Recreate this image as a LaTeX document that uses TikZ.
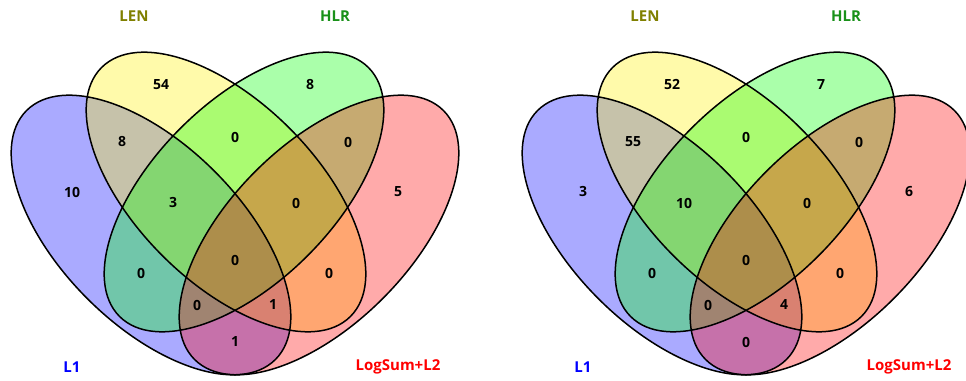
\documentclass[tikz,border=0pt]{standalone}
\usepackage{fontspec}
\setmainfont{Open Sans}
\definecolor{lenc}{RGB}{128,128,0}
\definecolor{hlrc}{RGB}{25,145,25}
\tikzset{
  num/.style={font=\bfseries\fontsize{14}{14}\selectfont, text=black, inner sep=0pt},
  setlab/.style={font=\bfseries\fontsize{15}{15}\selectfont, inner sep=0pt},
  vfill/.style={fill=#1, fill opacity=0.335, draw=none},
  vline/.style={draw=black, line width=1.5pt}
}
\begin{document}
\begin{tikzpicture}[x=1pt,y=1pt]
\useasboundingbox (0,0) rectangle (966,380);
\fill[white] (0,0) rectangle (966,380);
\foreach \dx/\p in {0/a,511/b}{
\begin{scope}[xshift=\dx]
  \path[vfill=blue, rotate around={-45:(151,145)}] (151,145) ellipse (176 and 90);
  \path[vfill=yellow, rotate around={-45:(226,188)}] (226,188) ellipse (176 and 90);
  \path[vfill=green, rotate around={45:(244,188)}] (244,188) ellipse (176 and 90);
  \path[vfill=red, rotate around={45:(319,145)}] (319,145) ellipse (176 and 90);
  \draw[vline, rotate around={-45:(151,145)}] (151,145) ellipse (176 and 90);
  \draw[vline, rotate around={-45:(226,188)}] (226,188) ellipse (176 and 90);
  \draw[vline, rotate around={45:(244,188)}] (244,188) ellipse (176 and 90);
  \draw[vline, rotate around={45:(319,145)}] (319,145) ellipse (176 and 90);
  \node[setlab, text=lenc] (\p len) at (134,364) {LEN};
  \node[setlab, text=hlrc] (\p hlr) at (335,364) {HLR};
  \node[setlab, text=blue] (\p lone) at (72,13) {L1};
  \node[setlab, text=red] (\p log) at (398,13) {LogSum+L2};
\end{scope}
}
% left panel numbers
\begin{scope}
  \node[num] (a1) at (161,295) {54};
  \node[num] (a2) at (310,295) {8};
  \node[num] (a3) at (122,238) {8};
  \node[num] (a4) at (235,243) {0};
  \node[num] (a5) at (348,238) {0};
  \node[num] (a6) at (72,188) {10};
  \node[num] (a7) at (173,177) {3};
  \node[num] (a8) at (296,177) {0};
  \node[num] (a9) at (398,188) {5};
  \node[num] (a10) at (235,120) {0};
  \node[num] (a11) at (141,107) {0};
  \node[num] (a12) at (329,107) {0};
  \node[num] (a13) at (197,75) {0};
  \node[num] (a14) at (273,75) {1};
  \node[num] (a15) at (235,38) {1};
\end{scope}
% right panel numbers
\begin{scope}[xshift=511]
  \node[num] (b1) at (161,295) {52};
  \node[num] (b2) at (310,295) {7};
  \node[num] (b3) at (122,238) {55};
  \node[num] (b4) at (235,243) {0};
  \node[num] (b5) at (348,238) {0};
  \node[num] (b6) at (72,188) {3};
  \node[num] (b7) at (173,177) {10};
  \node[num] (b8) at (296,177) {0};
  \node[num] (b9) at (398,188) {6};
  \node[num] (b10) at (235,120) {0};
  \node[num] (b11) at (141,107) {0};
  \node[num] (b12) at (329,107) {0};
  \node[num] (b13) at (197,75) {0};
  \node[num] (b14) at (273,75) {4};
  \node[num] (b15) at (235,38) {0};
\end{scope}
\end{tikzpicture}
\end{document}
